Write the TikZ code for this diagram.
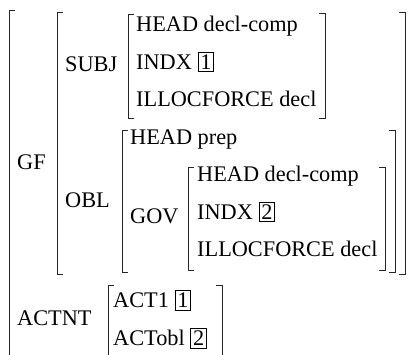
\documentclass[tikz,border=0pt]{standalone}
\usepackage{fontspec}
\setmainfont{Liberation Serif}
\newcommand{\avmfs}{\fontsize{22.3}{26}\selectfont}
\newcommand{\tagbx}[1]{{\setlength{\fboxsep}{2pt}\setlength{\fboxrule}{0.8pt}\fbox{#1}}}
\tikzset{
  brk/.style={line width=0.9pt, black!85},
  txt/.style={anchor=base west, inner sep=0pt, font=\avmfs},
}
\begin{document}
\begin{tikzpicture}[x=1pt,y=-1pt]
\useasboundingbox (0,0) rectangle (410,355);
\clip (0,0) rectangle (410,355);
% left brackets
\draw[brk] (15,10.7) -- (9,10.7) -- (9,370);
\draw[brk] (63,12) -- (57,12) -- (57,274) -- (63,274);
\draw[brk] (134,14) -- (128,14) -- (128,118) -- (134,118);
\draw[brk] (128,130) -- (122,130) -- (122,272) -- (128,272);
\draw[brk] (194,167) -- (188,167) -- (188,270) -- (194,270);
\draw[brk] (114,285) -- (108,285) -- (108,370);
% right brackets
\draw[brk] (399,12) -- (405,12) -- (405,274) -- (399,274);
\draw[brk] (319,13) -- (325,13) -- (325,118) -- (319,118);
\draw[brk] (389,130) -- (395,130) -- (395,272) -- (389,272);
\draw[brk] (379,167) -- (385,167) -- (385,270) -- (379,270);
\draw[brk] (216,285) -- (222,285) -- (222,370);
% labels
\node[txt] (gf) at (17,170) {GF};
\node[txt] (subj) at (65,72) {SUBJ};
\node[txt] (obl) at (65,208) {OBL};
\node[txt] (gov) at (130,224) {GOV};
\node[txt] (actnt) at (17,326) {ACTNT};
% SUBJ value
\node[txt] (s1) at (136,32) {HEAD decl-comp};
\node[txt] (s2) at (136,69.5) {INDX \tagbx{1}};
\node[txt] (s3) at (136,107) {ILLOCFORCE decl};
% OBL value
\node[txt] (o1) at (130,144.5) {HEAD prep};
% GOV value
\node[txt] (g1) at (197,182) {HEAD decl-comp};
\node[txt] (g2) at (197,219.5) {INDX \tagbx{2}};
\node[txt] (g3) at (197,257) {ILLOCFORCE decl};
% ACTNT value
\node[txt] (a1) at (113,308) {ACT1 \tagbx{1}};
\node[txt] (a2) at (113,346) {ACTobl \tagbx{2}};
\end{tikzpicture}
\end{document}
